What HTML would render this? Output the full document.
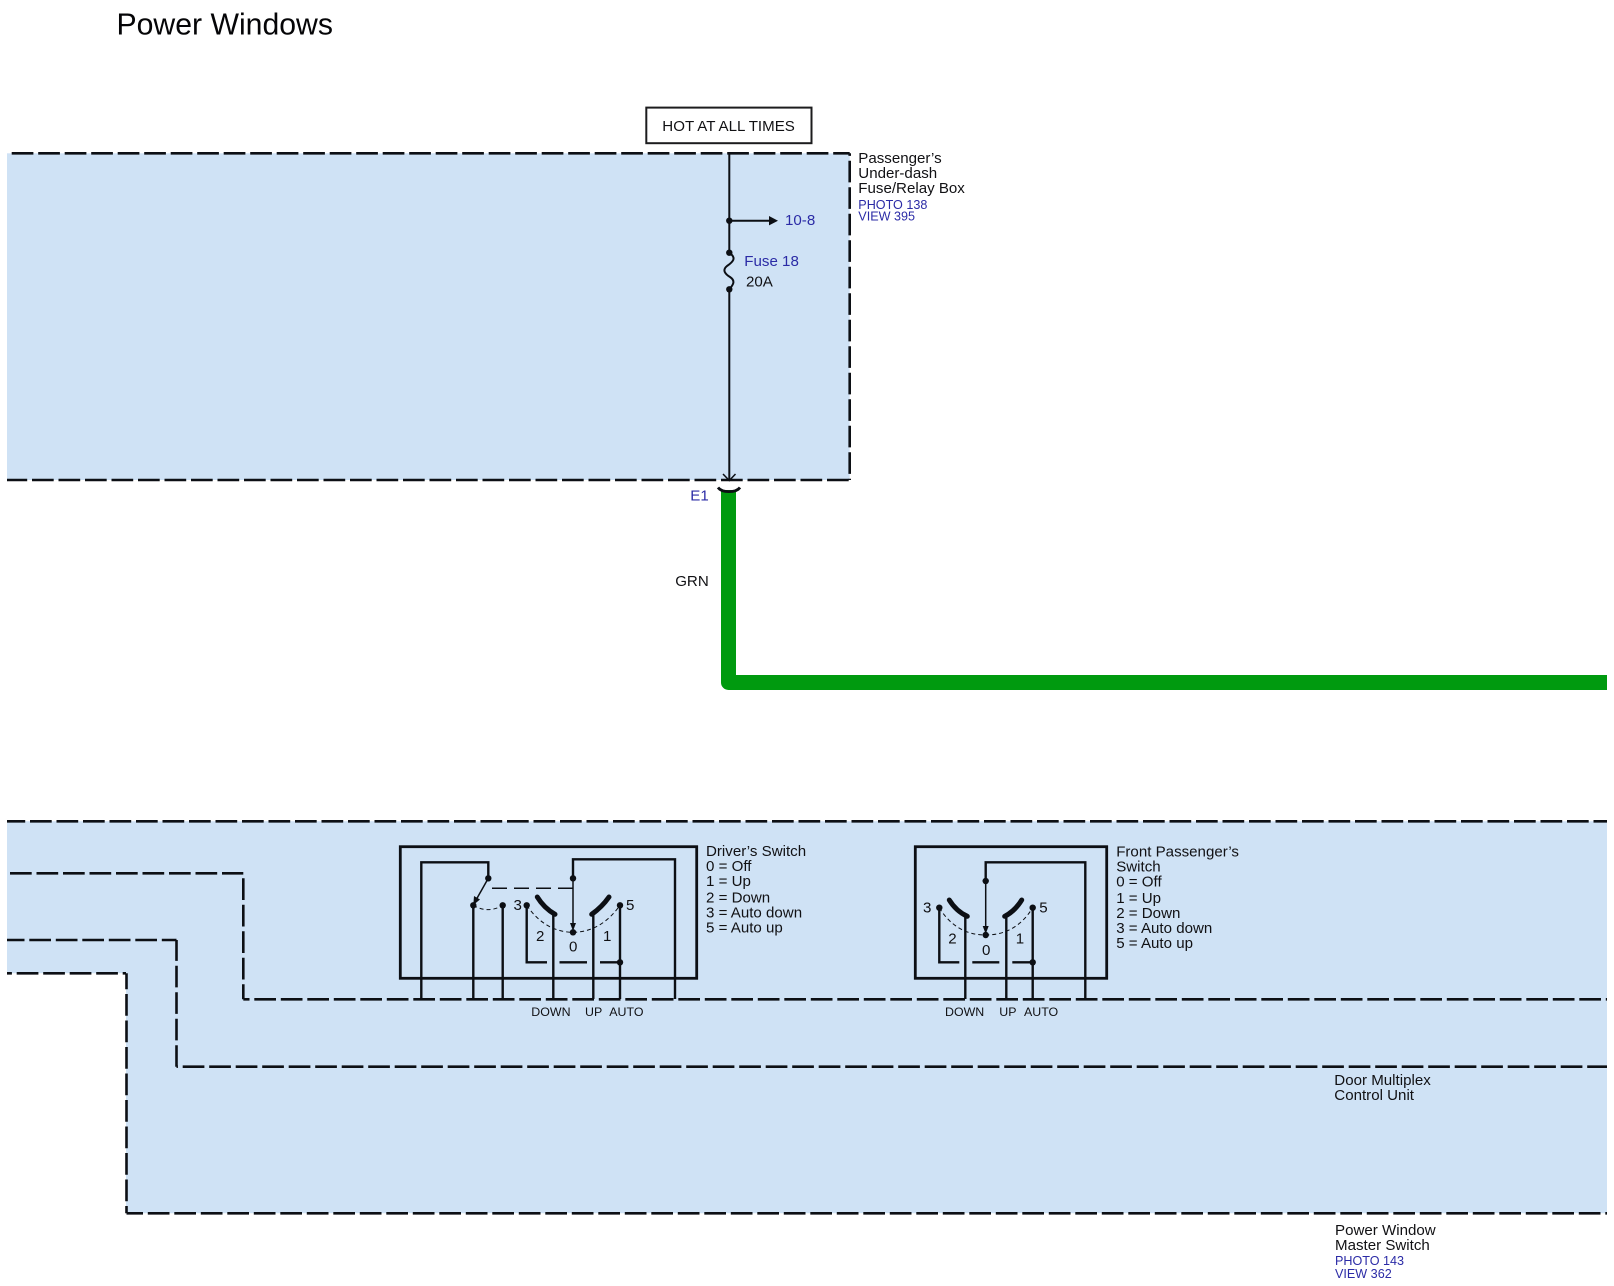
<!DOCTYPE html>
<html>
<head>
<meta charset="utf-8">
<style>
html,body{margin:0;padding:0;background:#fff;width:1614px;height:1286px;overflow:hidden}
svg{display:block}
text{font-family:"Liberation Sans",sans-serif;font-size:15.1px;fill:#111114}
.b{fill:#2b2ba6}
.s{font-size:12.6px}
.t{font-size:12.4px}
.d{stroke:#0c0f14;stroke-width:2.6;stroke-dasharray:21.7 4.8;fill:none}
.w{stroke:#0c0f14;stroke-width:2.4;fill:none}
.n{stroke:#0c0f14;stroke-width:1.5;fill:none}
.c{stroke:#0c0f14;stroke-width:1;stroke-dasharray:4 3;fill:none}
.k{stroke:#0c0f14;stroke-width:5;stroke-linecap:round;fill:none}
.bx{stroke:#0c0f14;stroke-width:2.8;fill:none}
circle,.f{fill:#0c0f14}
</style>
</head>
<body>
<svg width="1614" height="1286" viewBox="0 0 1614 1286" xmlns="http://www.w3.org/2000/svg">
<rect width="1614" height="1286" fill="#fff"/>
<text x="116.5" y="34.7" style="font-size:30.2px;fill:#050507">Power Windows</text>

<!-- Fuse box -->
<rect x="7" y="153.3" width="842.7" height="326.7" fill="#cfe2f5"/>
<path class="d" d="M11.7 153.3H849.7"/>
<path class="d" style="stroke-dashoffset:19.1" d="M849.7 153.3V480"/>
<path class="d" style="stroke-dashoffset:1.5" d="M7 480H849.7"/>

<rect x="646.3" y="107.6" width="165.2" height="35.6" fill="#fff" stroke="#1c1c1e" stroke-width="2"/>
<text x="662.3" y="131">HOT AT ALL TIMES</text>

<path class="w" style="stroke-width:2" d="M729.3 153.3V252.7M729.3 289.3V480"/>
<path class="w" style="stroke-width:2" d="M729.3 220.7H770"/>
<polygon class="f" points="778,220.7 769,216 769,225.4"/>
<circle cx="729.3" cy="220.7" r="3.2"/>
<circle cx="729.3" cy="252.7" r="3.2"/>
<circle cx="729.3" cy="289.3" r="3.2"/>
<path class="w" style="stroke-width:2" d="M729.3 252.7C737 258 733 262 727 266C722 270 725 274 730 277C736 281 733 285 729.3 289.3"/>
<path class="n" d="M723 474L729.3 480.5L735.5 474"/>

<text class="b" x="785" y="225">10-8</text>
<text class="b" x="744.3" y="266">Fuse 18</text>
<text x="746" y="286.7">20A</text>
<text x="858.3" y="163">Passenger’s</text>
<text x="858.3" y="178">Under-dash</text>
<text x="858.3" y="193">Fuse/Relay Box</text>
<text class="b s" x="858.3" y="209">PHOTO 138</text>
<text class="b s" x="858.3" y="220.7">VIEW 395</text>

<text class="b" x="690.3" y="500.7">E1</text>
<text x="675.2" y="586">GRN</text>

<!-- Green wire -->
<path d="M728.5 490V682.5H1607" fill="none" stroke="#009a0f" stroke-width="15" stroke-linejoin="round"/>
<path class="w" style="stroke-width:2.8" d="M718 487.5C722 493 736 493 740 487.5"/>

<!-- Lower region -->
<polygon fill="#cfe2f5" points="7,821.3 1607,821.3 1607,1213.3 126,1213.3 126,973.3 7,973.3"/>
<path class="d" style="stroke-dashoffset:3.5" d="M7 821.3H1607"/>
<path class="d" d="M10 873.3H243.3"/>
<path class="d" d="M243.3 878.3V999.3"/>
<path class="d" style="stroke-dashoffset:15.5" d="M243.3 999.3H1607"/>
<path class="d" style="stroke-dashoffset:4.2" d="M7 940H176.5"/>
<path class="d" style="stroke-dashoffset:0.8" d="M176.5 940V1066.7"/>
<path class="d" style="stroke-dashoffset:20.3" d="M176.5 1066.7H1607"/>
<path class="d" style="stroke-dashoffset:16.8" d="M7 973.3H126"/>
<path class="d" style="stroke-dashoffset:5.8" d="M126.5 973.3V1213.3"/>
<path class="d" style="stroke-dashoffset:5.2" d="M126.5 1213.3H1607"/>

<!-- Driver's switch -->
<rect class="bx" x="400.3" y="846.7" width="296.4" height="131.6"/>
<path class="w" d="M421.3 999V862.3H488.3V878.3"/>
<path class="w" d="M675 999V859.3H573V878.3"/>
<path class="n" d="M573 878.3V926"/>
<polygon class="f" points="573,931 570,923 576,923"/>
<path class="n" d="M488.3 878.3L476 900"/>
<polygon class="f" points="473.3,905 474,896 480,899.5"/>
<path class="w" style="stroke-width:1.5;stroke-dasharray:15 7" d="M492 888.3H573"/>
<path class="w" d="M473.3 905.3V999M502.7 905.3V999M553.3 914V999M593.3 914V999M620 905.3V999"/>
<path class="w" d="M526.7 905.3V962.3H547"/>
<path class="w" d="M559.5 962.3H587"/>
<path class="w" d="M600 962.3H620"/>
<circle cx="488.3" cy="878.3" r="3.2"/>
<circle cx="573" cy="878.3" r="3.2"/>
<circle cx="473.3" cy="905.3" r="3.2"/>
<circle cx="502.7" cy="905.3" r="3.2"/>
<circle cx="526.7" cy="905.3" r="3.2"/>
<circle cx="620" cy="905.3" r="3.2"/>
<circle cx="573" cy="932.3" r="3.2"/>
<circle cx="620" cy="962.3" r="3.2"/>
<path class="c" d="M473.3 905.3Q488 914 502.7 905.3"/>
<path class="c" d="M526.7 905.3Q545 932 573 932.3Q601 932 620 905.3"/>
<path class="k" d="M537.3 897Q544 908 555 914.3"/>
<path class="k" d="M609 897Q602 907 591.7 914.3"/>
<text x="513.5" y="910">3</text>
<text x="626" y="910">5</text>
<text x="536" y="941">2</text>
<text x="569" y="951.7">0</text>
<text x="603" y="941">1</text>
<text class="t" x="531.3" y="1016">DOWN</text>
<text class="t" x="585" y="1016">UP</text>
<text class="t" x="609.3" y="1016">AUTO</text>
<text x="706" y="856">Driver’s Switch</text>
<text x="706" y="871">0 = Off</text>
<text x="706" y="886">1 = Up</text>
<text x="706" y="902.5">2 = Down</text>
<text x="706" y="917.5">3 = Auto down</text>
<text x="706" y="932.5">5 = Auto up</text>

<!-- Front passenger's switch -->
<rect class="bx" x="915.3" y="846.7" width="191.4" height="131.6"/>
<path class="w" d="M1085.3 999V862.3H985.7V881"/>
<path class="n" d="M985.7 881V929"/>
<polygon class="f" points="985.7,934 982.7,926 988.7,926"/>
<path class="w" d="M965.3 916V999M1006.3 916V999M1032.7 907.7V999"/>
<path class="w" d="M939.3 907.7V962.3H959.3"/>
<path class="w" d="M972.3 962.3H999.3"/>
<path class="w" d="M1012.3 962.3H1032.7"/>
<circle cx="985.7" cy="881" r="3.2"/>
<circle cx="939.3" cy="907.7" r="3.2"/>
<circle cx="1032.7" cy="907.7" r="3.2"/>
<circle cx="985.7" cy="935" r="3.2"/>
<circle cx="1032.7" cy="962.3" r="3.2"/>
<path class="c" d="M939.3 907.7Q956 935 985.7 935Q1016 935 1032.7 907.7"/>
<path class="k" d="M949.3 900Q956 911 967.3 916.3"/>
<path class="k" d="M1021.7 900Q1015 911 1004.7 916.3"/>
<text x="923" y="912.7">3</text>
<text x="1039.3" y="912.7">5</text>
<text x="948.3" y="943.7">2</text>
<text x="982" y="955">0</text>
<text x="1015.7" y="943.7">1</text>
<text class="t" x="945" y="1016">DOWN</text>
<text class="t" x="999.3" y="1016">UP</text>
<text class="t" x="1024" y="1016">AUTO</text>
<text x="1116.2" y="856.7">Front Passenger’s</text>
<text x="1116.2" y="871.7">Switch</text>
<text x="1116.2" y="886.7">0 = Off</text>
<text x="1116.2" y="903">1 = Up</text>
<text x="1116.2" y="918">2 = Down</text>
<text x="1116.2" y="933">3 = Auto down</text>
<text x="1116.2" y="948">5 = Auto up</text>

<text x="1334.3" y="1085">Door Multiplex</text>
<text x="1334.3" y="1100">Control Unit</text>
<text x="1335" y="1235">Power Window</text>
<text x="1335" y="1250">Master Switch</text>
<text class="b s" x="1335" y="1265">PHOTO 143</text>
<text class="b s" x="1335" y="1278">VIEW 362</text>
</svg>
</body>
</html>
